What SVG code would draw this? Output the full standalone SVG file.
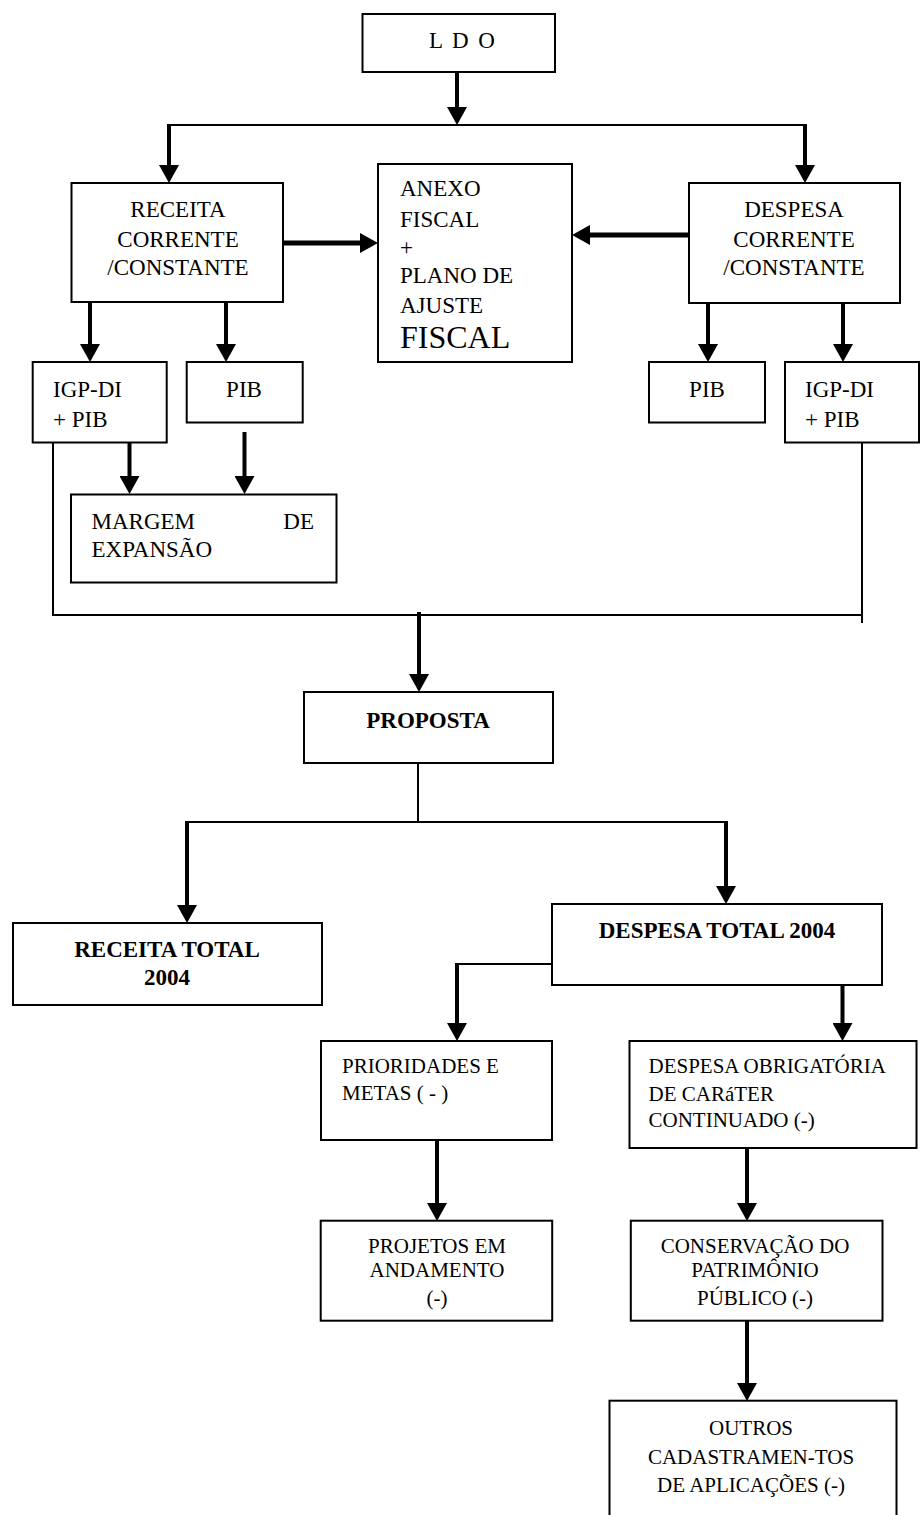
<svg xmlns="http://www.w3.org/2000/svg" width="922" height="1515" viewBox="0 0 922 1515">
<style>
  .box { fill: #ffffff; stroke: #000000; stroke-width: 2; }
  .t { font-family: "Liberation Serif", "Times New Roman", serif; font-size: 23px; fill: #000000; }
  .big { font-size: 32px; }
  .s { font-family: "Liberation Serif", "Times New Roman", serif; font-size: 21px; fill: #000000; }
  .b { font-family: "Liberation Serif", "Times New Roman", serif; font-size: 23px; font-weight: bold; fill: #000000; }
  .c { text-anchor: middle; }
  .e { text-anchor: end; }
  .thin { fill: none; stroke: #000000; stroke-width: 2; }
  .arr { fill: none; stroke: #000000; stroke-width: 4; marker-end: url(#ah); }
  .arrw { fill: none; stroke: #000000; stroke-width: 5; marker-end: url(#ah); }
</style>
<defs>
  <marker id="ah" markerUnits="userSpaceOnUse" markerWidth="18" markerHeight="20" refX="4" refY="10" orient="auto">
    <path d="M0,0 L18,10 L0,20 z" fill="#000000"/>
  </marker>
</defs>
<rect width="922" height="1515" fill="#ffffff"/>

<g id="connectors">
  <line class="arr" x1="457" y1="72" x2="457" y2="111"/>
  <line class="thin" x1="169" y1="125" x2="805" y2="125"/>
  <line class="arr" x1="169" y1="124" x2="169" y2="169"/>
  <line class="arr" x1="805" y1="124" x2="805" y2="169"/>
  <line class="arrw" x1="283" y1="243" x2="364" y2="243"/>
  <line class="arrw" x1="689" y1="235" x2="586" y2="235"/>
  <line class="arr" x1="90" y1="303" x2="90" y2="348"/>
  <line class="arr" x1="226" y1="303" x2="226" y2="348"/>
  <line class="arr" x1="708" y1="303" x2="708" y2="348"/>
  <line class="arr" x1="843" y1="303" x2="843" y2="348"/>
  <line class="arr" x1="129.5" y1="432" x2="129.5" y2="480"/>
  <line class="arr" x1="244.5" y1="432" x2="244.5" y2="480"/>
  <polyline class="thin" points="53,442 53,615 862,615"/>
  <line class="thin" x1="862" y1="442" x2="862" y2="623"/>
  <line class="arr" x1="419" y1="612" x2="419" y2="678"/>
  <line class="thin" x1="418" y1="763" x2="418" y2="822"/>
  <line class="thin" x1="187" y1="822" x2="726" y2="822"/>
  <line class="arr" x1="187" y1="821" x2="187" y2="909"/>
  <line class="arr" x1="726" y1="821" x2="726" y2="890"/>
  <polyline class="thin" points="552,964 457,964"/>
  <line class="arr" x1="457" y1="963" x2="457" y2="1027"/>
  <line class="arr" x1="842.5" y1="983" x2="842.5" y2="1027"/>
  <line class="arr" x1="437" y1="1140" x2="437" y2="1207"/>
  <line class="arr" x1="747" y1="1140" x2="747" y2="1207"/>
  <line class="arr" x1="747" y1="1318" x2="747" y2="1387"/>
</g>

<g id="ldo">
  <rect class="box" x="362.5" y="14" width="192.5" height="58"/>
  <text class="t" x="429" y="48" letter-spacing="2">L D O</text>
</g>

<g id="receita-corrente">
  <rect class="box" x="71.5" y="183" width="211.5" height="119"/>
  <text class="t c" x="178" y="217">RECEITA</text>
  <text class="t c" x="178" y="247">CORRENTE</text>
  <text class="t c" x="178" y="275">/CONSTANTE</text>
</g>

<g id="anexo-fiscal">
  <rect class="box" x="378" y="164" width="194" height="198"/>
  <text class="t" x="400" y="196">ANEXO</text>
  <text class="t" x="400" y="226.5">FISCAL</text>
  <text class="t" x="400" y="255">+</text>
  <text class="t" x="400" y="283">PLANO DE</text>
  <text class="t" x="400" y="312.5">AJUSTE</text>
  <text class="t big" x="400" y="348">FISCAL</text>
</g>

<g id="despesa-corrente">
  <rect class="box" x="689" y="183" width="211" height="120"/>
  <text class="t c" x="794" y="217">DESPESA</text>
  <text class="t c" x="794" y="247">CORRENTE</text>
  <text class="t c" x="794" y="275">/CONSTANTE</text>
</g>

<g id="igpdi-left">
  <rect class="box" x="32.7" y="362" width="134" height="80.5"/>
  <text class="t" x="53" y="397">IGP-DI</text>
  <text class="t" x="53" y="427">+ PIB</text>
</g>

<g id="pib-left">
  <rect class="box" x="186.7" y="362" width="116" height="60.5"/>
  <text class="t c" x="244" y="397">PIB</text>
</g>

<g id="pib-right">
  <rect class="box" x="649" y="362" width="116" height="60.5"/>
  <text class="t c" x="707" y="397">PIB</text>
</g>

<g id="igpdi-right">
  <rect class="box" x="785" y="362" width="134" height="80.5"/>
  <text class="t" x="805" y="397">IGP-DI</text>
  <text class="t" x="805" y="427">+ PIB</text>
</g>

<g id="margem">
  <rect class="box" x="71" y="494.5" width="265.5" height="88"/>
  <text class="t" x="91.5" y="529">MARGEM</text>
  <text class="t e" x="314" y="529">DE</text>
  <text class="t" x="91.5" y="557">EXPANSÃO</text>
</g>

<g id="proposta">
  <rect class="box" x="304" y="692" width="249" height="71"/>
  <text class="b c" x="428" y="728">PROPOSTA</text>
</g>

<g id="receita-total">
  <rect class="box" x="13" y="923" width="309" height="82"/>
  <text class="b c" x="167" y="957">RECEITA TOTAL</text>
  <text class="b c" x="167" y="985">2004</text>
</g>

<g id="despesa-total">
  <rect class="box" x="552" y="904" width="330" height="81"/>
  <text class="b c" x="717" y="938">DESPESA TOTAL 2004</text>
</g>

<g id="prioridades">
  <rect class="box" x="321" y="1041" width="231" height="99"/>
  <text class="s" x="342" y="1073">PRIORIDADES E</text>
  <text class="s" x="342" y="1100">METAS ( - )</text>
</g>

<g id="despesa-obrigatoria">
  <rect class="box" x="629.5" y="1041" width="287" height="107"/>
  <text class="s" x="648.5" y="1073">DESPESA OBRIGATÓRIA</text>
  <text class="s" x="648.5" y="1100.5">DE CARáTER</text>
  <text class="s" x="648.5" y="1126.5">CONTINUADO (-)</text>
</g>

<g id="projetos">
  <rect class="box" x="320.7" y="1220.7" width="231.5" height="100"/>
  <text class="s c" x="437" y="1253">PROJETOS EM</text>
  <text class="s c" x="437" y="1277">ANDAMENTO</text>
  <text class="s c" x="437" y="1305">(-)</text>
</g>

<g id="conservacao">
  <rect class="box" x="630.8" y="1220.7" width="251.7" height="100"/>
  <text class="s c" x="755" y="1253">CONSERVAÇÃO DO</text>
  <text class="s c" x="755" y="1277">PATRIMÔNIO</text>
  <text class="s c" x="755" y="1305">PÚBLICO (-)</text>
</g>

<g id="outros">
  <rect class="box" x="609.5" y="1400.7" width="287" height="130"/>
  <text class="s c" x="751" y="1435">OUTROS</text>
  <text class="s c" x="751" y="1463.5">CADASTRAMEN-TOS</text>
  <text class="s c" x="751" y="1492">DE APLICAÇÕES (-)</text>
</g>
</svg>
